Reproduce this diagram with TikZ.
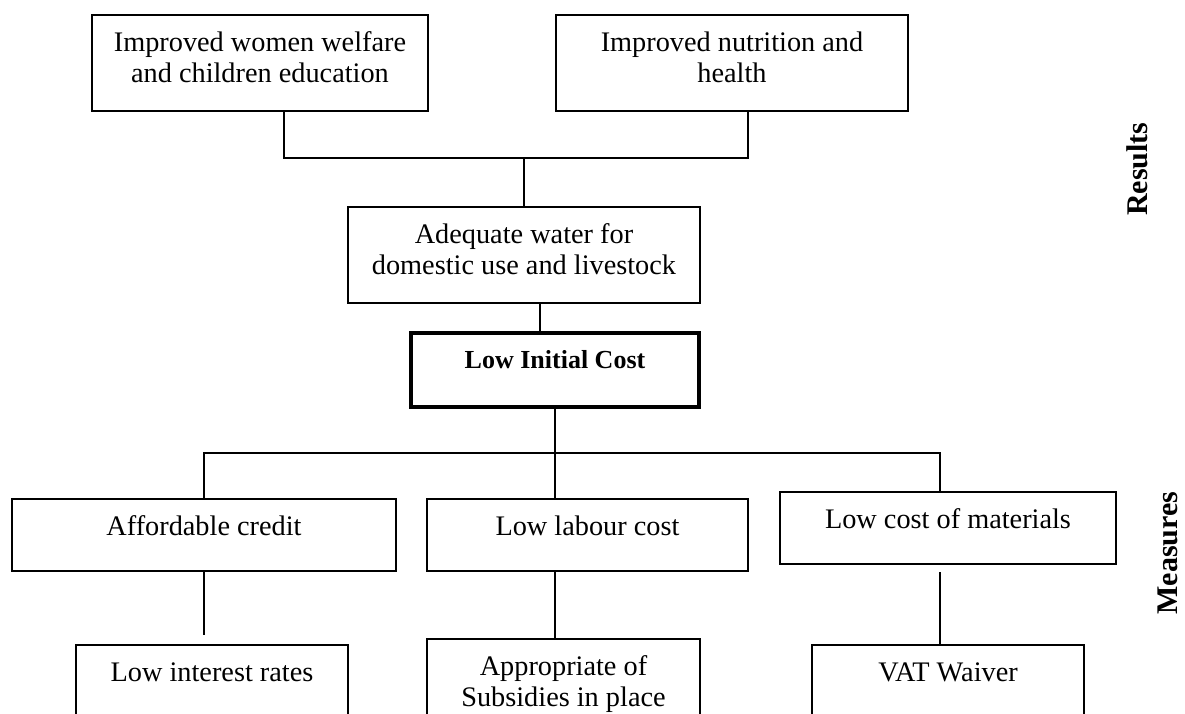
\documentclass[tikz,border=0pt]{standalone}
\usepackage{fontspec}
\setmainfont{Liberation Serif}
\usetikzlibrary{calc}

% box text: fixed-size parbox, first baseline 36pt below the top edge
\newcommand\boxlabel[3]{\parbox[c][#2][t]{#1}{\centering
  \fontsize{28.3}{31}\selectfont\rule{0pt}{36pt}#3\par}}
\newcommand\boldlabel[3]{\parbox[c][#2][t]{#1}{\centering
  \fontsize{26}{31}\selectfont\bfseries\rule{0pt}{35pt}#3\par}}

\tikzset{
  boxst/.style={draw=black, line width=1.5pt, inner sep=0pt, outer sep=0pt,
    anchor=north west},
  keybox/.style={boxst, line width=3.6pt},
  link/.style={draw=black, line width=1.3pt},
  sidelabel/.style={rotate=90, inner sep=0pt,
    font=\fontsize{30}{36}\selectfont\bfseries}
}

\begin{document}
\begin{tikzpicture}[x=1pt, y=-1pt]
  \useasboundingbox (0,0) rectangle (1185,713);
  \clip (0,0) rectangle (1185,713);

  % results
  \node[boxst] (b1) at (92,15)
    {\boxlabel{336pt}{96pt}{Improved women welfare\\and children education}};
  \node[boxst] (b2) at (556,15)
    {\boxlabel{352pt}{96pt}{Improved nutrition and\\health}};
  \node[boxst] (b3) at (348,207)
    {\boxlabel{352pt}{96pt}{Adequate water for\\domestic use and livestock}};

  % central objective
  \node[keybox] (lic) at (411,333)
    {\boldlabel{288pt}{74pt}{Low Initial Cost}};

  % measures
  \node[boxst] (m1) at (12,499)
    {\boxlabel{384pt}{72pt}{Affordable credit}};
  \node[boxst] (m2) at (427,499)
    {\boxlabel{321pt}{72pt}{Low labour cost}};
  \node[boxst] (m3) at (780,492)
    {\boxlabel{336pt}{72pt}{Low cost of materials}};

  % supporting measures (continue below the page edge)
  \node[boxst] (s1) at (76,645)
    {\boxlabel{272pt}{110pt}{Low interest rates}};
  \node[boxst] (s2) at (427,639)
    {\boxlabel{273pt}{110pt}{Appropriate of\\Subsidies in place}};
  \node[boxst] (s3) at (812,645)
    {\boxlabel{272pt}{110pt}{VAT Waiver}};

  % side labels
  \node[sidelabel] (res) at (1137,169) {Results};
  \node[sidelabel] (mea) at (1168,553) {Measures};

  % connectors: results tree
  \coordinate (j1) at ($(b3.north)+(0,-49)$);
  \draw[link] ([xshift=24pt]b1.south) |- (j1) -| ([xshift=16pt]b2.south);
  \draw[link] (j1) -- (b3.north);
  \draw[link] ([xshift=16pt]b3.south) coordinate (t1) -- (t1 |- lic.north);

  % connectors: measures tree
  \draw[link] (lic.south) -- (lic.south |- m2.north);
  \coordinate (j2) at ($(lic.south)+(0,46)$);
  \draw[link] (m1.north) |- ([xshift=-8pt]m3.north |- j2)
    -- ([xshift=-8pt]m3.north);

  % connectors: measures to supporting measures
  \draw[link] (m1.south) -- ([yshift=10pt]m1.south |- s1.north);
  \draw[link] (lic.south |- m2.south) coordinate (t2) -- (t2 |- s2.north);
  \draw[link] ([xshift=-8pt,yshift=-8pt]m3.south) -- ([xshift=-8pt]s3.north);
\end{tikzpicture}
\end{document}
